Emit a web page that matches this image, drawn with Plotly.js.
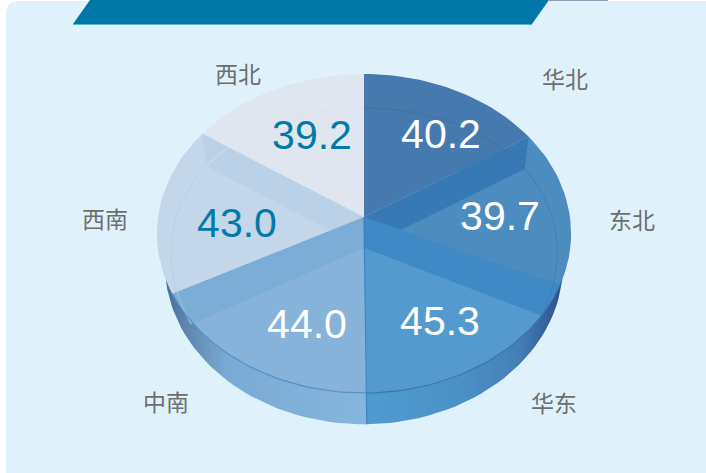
<!DOCTYPE html>
<html><head><meta charset="utf-8">
<script src="https://cdn.plot.ly/plotly-3.0.1.min.js"></script>
<style>html,body{margin:0;padding:0;background:#fff}#c{width:706px;height:473px}</style></head>
<body><div id="c"></div><script>
const regions = ['华北','东北','华东','中南','西南','西北'];
const values = [40.2,39.7,45.3,44.0,43.0,39.2];

const faceColors = ['#4679ad','#4c8cbf','#559ace','#87b3db','#c4d7ea','#dfe6f0'];
const valueColors = ['#ffffff','#ffffff','#ffffff','#ffffff','#007aa8','#007aa8'];
const bandColors = {1:'#3779b4',2:'#3f8ac6',4:'#7badd7',5:'#bbd1e8'};
const labelX = [441,500,440,307,237,312];
const labelY = [138,220,325,328,227,139];
const nameX = [565,632,554,166,105,238];
const nameY = [82,223,406,405,222,77];

// Perspective disc rings, in picture pixels
const top_ = {hx:364,hy:217,a:206,b:157.8,kx:.1035,ky:.1035};
const base = {hx:364,hy:248,a:193,b:156,kx:.026,ky:.114};
const rim  = {hx:364,hy:248,a:198,b:158,kx:.1035,ky:.1035};
const rad = d => d*Math.PI/180;
function pt(r,d){const u=Math.sin(rad(d)),v=Math.cos(rad(d));
  return [r.hx+r.a*u/(1+r.kx*v), r.hy-r.b*v/(1+r.ky*v)];}
function arc(r,d1,d2){const n=Math.max(2,Math.ceil(Math.abs(d2-d1)/2)),o=[];
  for(let i=0;i<=n;i++)o.push(pt(r,d1+(d2-d1)*i/n));return o;}
const total = values.reduce((a,b)=>a+b,0);
const cum=[0]; values.forEach(v=>cum.push(cum[cum.length-1]+v/total*360));

function poly(pts,color,extra){return Object.assign({type:'scatter',mode:'lines',
  x:pts.map(p=>p[0]),y:pts.map(p=>p[1]),fill:'toself',fillcolor:color,
  line:{width:0,color:color},hoverinfo:'skip',showlegend:false},extra||{});}
function ln(pts,color,w,op){return {type:'scatter',mode:'lines',x:pts.map(p=>p[0]),y:pts.map(p=>p[1]),
  line:{width:w,color:color},opacity:op,hoverinfo:'skip',showlegend:false};}

const traces=[];
// outer wall
const hubB=[rim.hx,rim.hy];
traces.push(poly([hubB,...arc(rim,cum[3],cum[3]+88),hubB],'#7fb0da',{fillgradient:{type:'horizontal',
  colorscale:[[0,'#4a6a96'],[.1,'#5d83ae'],[.3,'#7aa9d3'],[1,'#86b5de']]}}));
traces.push(poly([hubB,...arc(rim,cum[2]-70,cum[3]),hubB],'#4d96cb',{fillgradient:{type:'horizontal',
  colorscale:[[0,'#4f9bd0'],[.5,'#4a90c6'],[.78,'#447fb4'],[.93,'#325f9b'],[1,'#2b4f8b']]}}));
// faces
values.forEach((v,i)=>{const h=[top_.hx,top_.hy];
  traces.push(poly([h,...arc(top_,cum[i],cum[i+1]),h],faceColors[i]));});
// see-through inner walls
[1,2,5,4].forEach(i=>{const d=cum[i];
  traces.push(poly([[top_.hx,top_.hy],pt(top_,d),pt(base,d),[base.hx,base.hy],[top_.hx,top_.hy]],bandColors[i]));});
// see-through base arcs
[[0,1,'#3f6fa3',.7],[1,2,'#3f78ad',.55],[4,5,'#b6cce3',.6],[5,6,'#d8e0ec',.6]].forEach(s=>{
  traces.push(ln(arc(base,cum[s[0]],cum[s[1]]),s[2],1.1,s[3]));});
// front edges and the seam
traces.push(ln(arc(top_,cum[2],cum[3]),'#3a72ab',1.2,.9));
traces.push(ln(arc(top_,cum[3],cum[4]),'#4a8dc8',1.2,.9));
traces.push(ln([[top_.hx,top_.hy],pt(top_,cum[3]),pt(rim,cum[3])],'#3f7db8',1.2,.9));
// labels
traces.push({type:'scatter',mode:'text',x:labelX,y:labelY,text:values.map(v=>v.toFixed(1)),
  textposition:'middle center',textfont:{family:'Liberation Sans, Arial, sans-serif',size:41,color:valueColors},
  hoverinfo:'skip',showlegend:false});
traces.push({type:'scatter',mode:'text',x:nameX,y:nameY,text:regions,
  textposition:'middle center',textfont:{family:'Noto Sans CJK SC, sans-serif',size:23,color:'#6e6e6e'},
  hoverinfo:'skip',showlegend:false});

const layout={width:706,height:473,margin:{l:0,r:0,t:0,b:0},paper_bgcolor:'#ffffff',plot_bgcolor:'rgba(0,0,0,0)',showlegend:false,
  xaxis:{range:[0,706],visible:false,fixedrange:true},
  yaxis:{range:[473,0],visible:false,fixedrange:true},
  shapes:[
   {type:'path',layer:'below',path:'M6,14 Q6,1 20,1 L706,1 L706,473 L6,473 Z',fillcolor:'#dff2fb',line:{width:0}},
   {type:'path',layer:'below',path:'M90,0 L549,0 L532,24 L73,24 Z',fillcolor:'#0077a6',line:{width:0}},
   {type:'line',layer:'below',x0:73,x1:532,y0:24.5,y1:24.5,line:{color:'#5db4d6',width:1}},
   {type:'line',layer:'below',x0:548,x1:608,y0:0.5,y1:0.5,line:{color:'#8a9db4',width:1}}
  ]};
Plotly.newPlot('c',traces,layout,{displayModeBar:false,staticPlot:true});
</script></body></html>
